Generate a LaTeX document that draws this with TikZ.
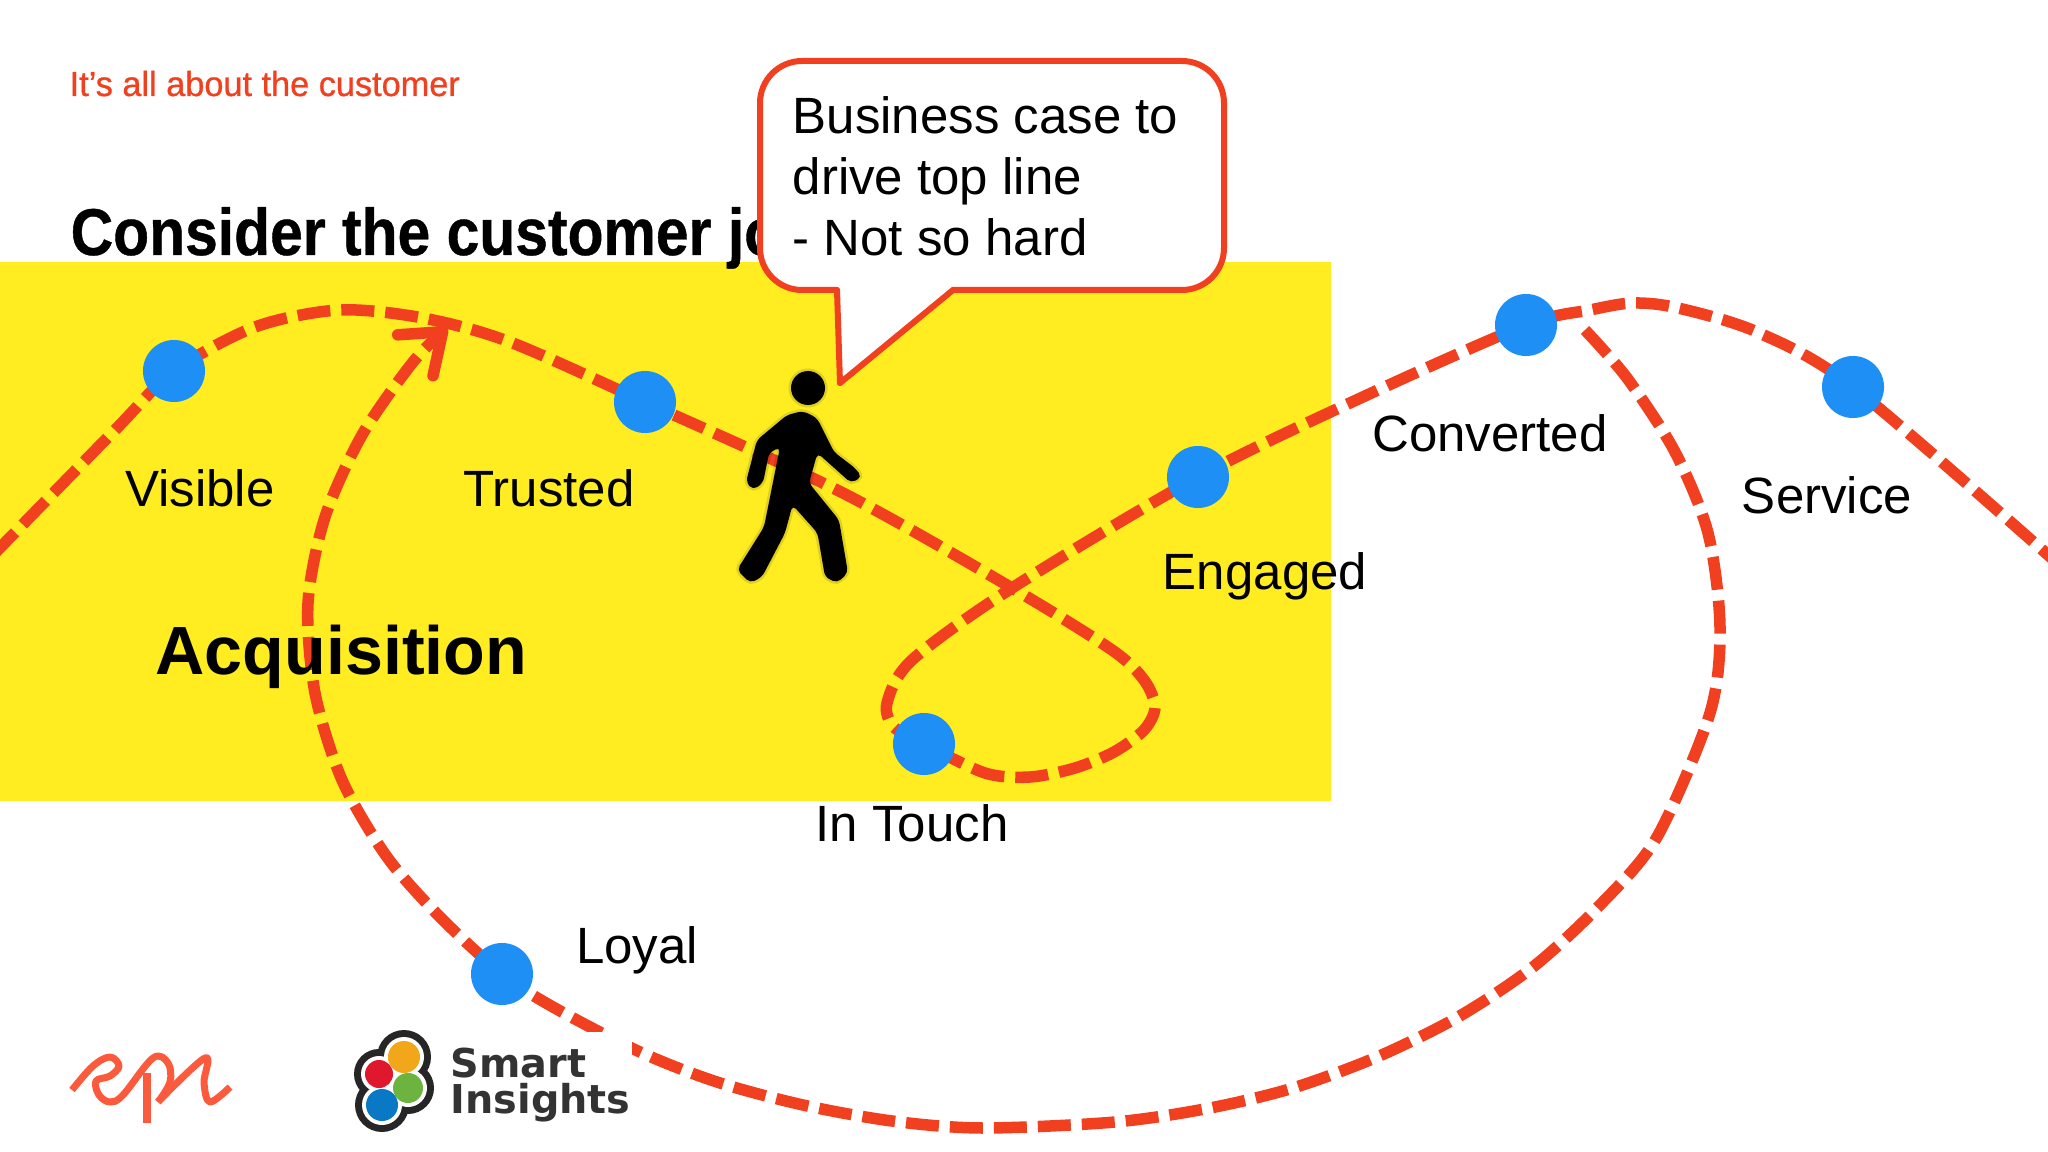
\documentclass[tikz,border=0pt]{standalone}
\usepackage{fontspec}
\setmainfont{Liberation Sans}
\newfontfamily\titlefont[FakeStretch=0.89,FakeBold=0.6]{Liberation Sans}
\newfontfamily\kickerfont[FakeStretch=0.985,FakeBold=0.8]{Liberation Sans}
\newfontfamily\logofont{DejaVu Sans}
\usetikzlibrary{positioning}
\usetikzlibrary{arrows.meta}
\usetikzlibrary{backgrounds}
\definecolor{trailred}{HTML}{F0401F}
\definecolor{spotblue}{HTML}{1E90F5}
\definecolor{bandyellow}{HTML}{FFEC21}
\definecolor{epired}{HTML}{FB5A3C}
\definecolor{logoorange}{HTML}{F2A71B}
\definecolor{logored}{HTML}{E0182D}
\definecolor{logogreen}{HTML}{6CB33F}
\definecolor{logoblue}{HTML}{0A79C5}
\tikzset{
  dot/.style={circle, fill=spotblue, minimum size=0.62cm, inner sep=0pt},
  lbl/.style={on grid, inner sep=0pt, text height=0.37cm, text depth=0.13cm, font=\fontsize{14.5}{17}\selectfont},
  trail/.style={draw=trailred, line width=0.115cm, dash pattern=on 0.33cm off 0.11cm},
  walker/.style={fill=black, rounded corners=0.05cm, preaction={draw=black, opacity=0.12, line width=0.05cm}},
  callout/.style={draw=trailred, line width=0.06cm, line cap=round},
}

\begin{document}
\begin{tikzpicture}[x=0.01cm, y=-0.01cm]

  \useasboundingbox (0,0) rectangle (2048,1152);

  % Define nodes
  \node[dot] (visible)   at (174,371)  {};
  \node[dot] (trusted)   at (645,402)  {};
  \node[dot] (intouch)   at (924,744)  {};
  \node[dot] (engaged)   at (1198,477) {};
  \node[dot] (converted) at (1526,325) {};
  \node[dot] (service)   at (1853,387) {};
  \node[dot] (loyal)     at (502,974)  {};

  \node[lbl, below right=1.23cm and 0.26cm of visible]  (visiblelbl)   {Visible};
  \node[lbl, below left=0.92cm and 0.96cm of trusted]   (trustedlbl)   {Trusted};
  \node[lbl, below left=0.85cm and 0.12cm of intouch]   (intouchlbl)   {In Touch};
  \node[lbl, below right=1.00cm and 0.67cm of engaged]  (engagedlbl)   {Engaged};
  \node[lbl, below left=1.14cm and 0.36cm of converted] (convertedlbl) {Converted};
  \node[lbl, below left=1.14cm and 0.26cm of service]   (servicelbl)   {Service};
  \node[lbl, above right=0.22cm and 1.35cm of loyal]    (loyallbl)     {Loyal};

  % Ends of the trail
  \coordinate (start)  at (-8,556);
  \coordinate (merge)  at (447,328);
  \coordinate (cross)  at (1012,588);
  \coordinate (finish) at (2056,562);
  \coordinate (back)   at (1585,330);

  % Band and trail sit under the nodes
  \begin{scope}[on background layer]
    \fill[bandyellow] (0,262) rectangle (1331,801);
    \draw[trail] plot[smooth, tension=0.5] coordinates {(start) (115,430) (visible.center) (255,327) (339,310) (423,318) (510,342) (trusted.center) (841,492) (cross) (1112,650) (1144,680) (1155,707) (1144,730) (1114,752) (1075,768) (1030,777) (985,773) (intouch.center) (894,727) (887,703) (912,660) (cross) (engaged.center) (1365,396) (converted.center) (1590,310) (1633,303) (1678,308) (1757,332) (service.center) (finish)};
    \draw[trail, -{Straight Barb[round, length=0.36cm, width=0.54cm]}] plot[smooth, tension=0.5] coordinates {(back) (1627,378) (1675,452) (1708,533) (1720,627) (1710,713) (1657,837) (1600,905) (1533,967) (1458,1017) (1377,1057) (1293,1088) (1210,1108) (1115,1122) (982,1128) (892,1121) (803,1105) (717,1082) (640,1052) (553,1007) (loyal.center) (440,917) (387,857) (342,780) (315,693) (308,603) (325,517) (362,435) (413,362) (merge)};
  \end{scope}

  % Headings
  \node[anchor=base west, inner sep=0pt, text=trailred, font=\kickerfont\fontsize{9.9}{12}\selectfont] (kicker) at (69,96) {It’s all about the customer};
  \node[anchor=base west, inner sep=0pt, font=\titlefont\bfseries\fontsize{18.8}{22}\selectfont] (heading) at (70,255) {Consider the customer jo};
  \node[anchor=base west, inner sep=0pt, font=\bfseries\fontsize{19.4}{23}\selectfont] (acquisition) at (155,674) {Acquisition};

  % Callout
  \coordinate (tailA) at (953,290);
  \coordinate (tailB) at (840,383);
  \coordinate (tailC) at (837,290);
  \filldraw[callout, fill=white]
    (tailB) -- (tailA) [rounded corners=0.42cm] -- (1224,290) -- (1224,61) -- (760,61) -- (760,290) -- (tailC);
  \draw[callout] (tailC) -- (tailB);
  \node[anchor=north west, inner sep=0pt, align=left, font=\fontsize{14.5}{17.36}\selectfont] (casetext) at (792,96) {Business case to\\drive top line\\- Not so hard};

  % Walker
  \fill[walker] (808,388) circle (17);
  \fill[walker] (803,411) -- (817,418) -- (834,452) -- (855,468) -- (862,477) -- (851,483) -- (817.5,453) -- (809,483) -- (839,520) -- (848,573) -- (837,583) -- (825,577) -- (817.5,533) -- (792.5,505) -- (785,533) -- (762,577) -- (750,583) -- (737,570) -- (764,527) -- (780,447) -- (769,453) -- (763,483) -- (753,490) -- (746,482) -- (757,440) -- (787,415) -- cycle;

  % Logos
  \fill[white] (348,1032) rectangle (632,1130);
  \draw[epired, line width=0.07cm, line join=round] plot[smooth, tension=0.6] coordinates {(72,1090) (93,1066) (110,1057) (119,1066) (110,1076) (96,1081) (99,1095) (110,1102) (123,1095) (153,1058) (168,1063) (170,1082) (158,1102)};
  \draw[epired, line width=0.07cm, line join=round] plot[smooth, tension=0.6] coordinates {(158,1102) (205,1058) (204,1083) (210,1102) (230,1087)};
  \draw[epired, line width=0.07cm] (147,1073) -- (147,1123);
  \foreach \cx/\cy/\cr/\cc in {404/1057/16/logoorange, 379/1074/14/logored, 408/1088/15/logogreen, 382/1105/16/logoblue}{
    \fill[black!85] (\cx,\cy) circle ({\cr+11});
  }
  \foreach \cx/\cy/\cr/\cc in {404/1057/16/logoorange, 379/1074/14/logored, 408/1088/15/logogreen, 382/1105/16/logoblue}{
    \fill[white] (\cx,\cy) circle ({\cr+4});
  }
  \foreach \cx/\cy/\cr/\cc in {404/1057/16/logoorange, 379/1074/14/logored, 408/1088/15/logogreen, 382/1105/16/logoblue}{
    \fill[\cc] (\cx,\cy) circle (\cr);
  }
  \node[anchor=north west, inner sep=0pt, align=left, text=black!80, font=\logofont\bfseries\fontsize{11.3}{10.2}\selectfont] (smart) at (450,1047) {Smart\\Insights};

\end{tikzpicture}
\end{document}
